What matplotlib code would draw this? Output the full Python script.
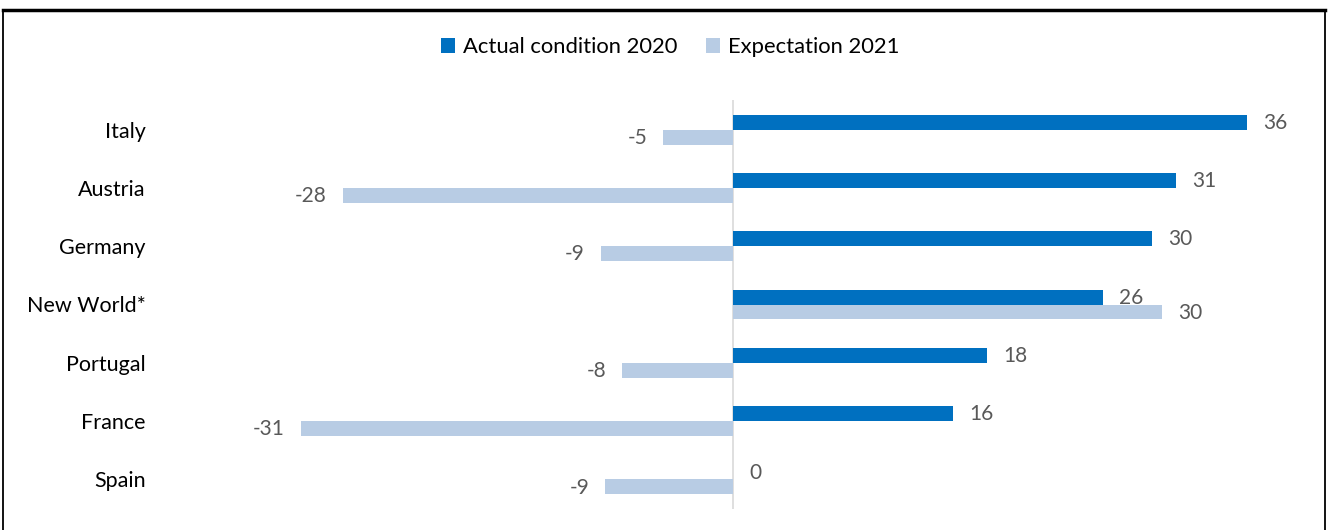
import matplotlib
matplotlib.use("Agg")
import matplotlib.pyplot as plt
from matplotlib.patches import Rectangle
import numpy as np

countries = ["Italy", "Austria", "Germany", "New World*", "Portugal", "France", "Spain"]
actual_2020 = [36.4, 31.4, 29.7, 26.2, 18.0, 15.6, 0.0]
expect_2021 = [-5.0, -27.7, -9.4, 30.4, -7.9, -30.7, -9.1]

BLUE = "#0070C0"
LIGHT = "#B8CCE4"
GRAY = "#595959"

plt.rcParams["font.family"] = ["Lato", "DejaVu Sans"]

fig = plt.figure(figsize=(13.3, 5.3), dpi=100)
ax = fig.add_axes([155.4 / 1330, (530 - 508.5) / 530, 1156.2 / 1330, 408 / 530])

y = np.arange(len(countries))
h = 0.257
ax.barh(y - h / 2, actual_2020, height=h, color=BLUE, label="Actual condition 2020")
ax.barh(y + h / 2, expect_2021, height=h, color=LIGHT, label="Expectation 2021")

ax.set_xlim(-41, 41)
ax.set_ylim(len(countries) - 0.5, -0.5)
ax.axvline(0, color="#d9d9d9", lw=1.2, zorder=0)

for i in range(len(countries)):
    for val, off in ((actual_2020[i], -h / 2), (expect_2021[i], h / 2)):
        txt = f"{val:.0f}"
        if val >= 0:
            ax.annotate(txt, (val, i + off), xytext=(11.5, -0.5), textcoords="offset points",
                        ha="left", va="center", fontsize=15, color=GRAY)
        else:
            ax.annotate(txt, (val, i + off), xytext=(-11.5, -0.5), textcoords="offset points",
                        ha="right", va="center", fontsize=15, color=GRAY)

ax.set_yticks(y)
ax.set_yticklabels(countries, fontsize=15.5)
ax.tick_params(axis="y", length=0, pad=7)
ax.set_xticks([])
for s in ax.spines.values():
    s.set_visible(False)

fig.legend(loc="center", bbox_to_anchor=(670 / 1330, 1 - 47 / 530), ncol=2, frameon=False,
           fontsize=15.8, handlelength=0.65, handleheight=0.65, handletextpad=0.35, columnspacing=1.3)

# outer frame of the figure box
fig.patches.append(Rectangle((3 / 1330, -0.01), 1322 / 1330, 1 - 10 / 530 + 0.01,
                             transform=fig.transFigure, fill=False, edgecolor="black", lw=1.3))
fig.add_artist(plt.Line2D([3 / 1330, 1325 / 1330], [1 - 10 / 530] * 2, transform=fig.transFigure,
                          color="black", lw=2.5))

fig.savefig("out.png", dpi=100)
